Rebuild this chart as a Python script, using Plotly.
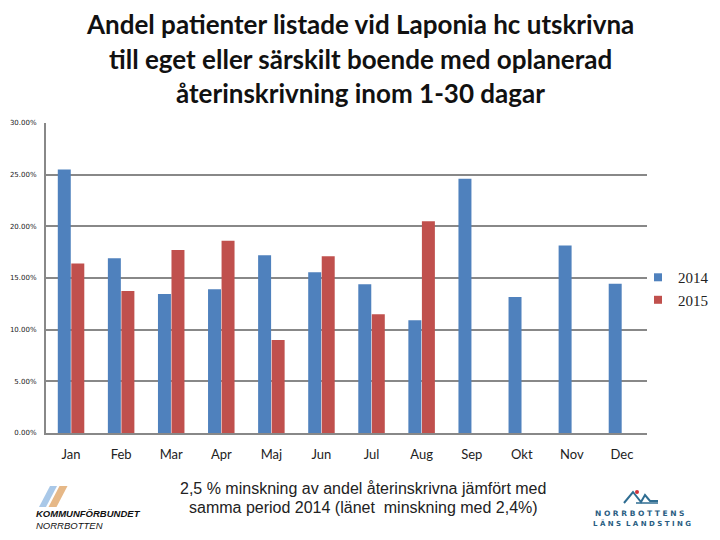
import plotly.graph_objects as go

months = ["Jan", "Feb", "Mar", "Apr", "Maj", "Jun", "Jul", "Aug", "Sep", "Okt", "Nov", "Dec"]
values_2014 = [25.5, 16.9, 13.45, 13.9, 17.2, 15.55, 14.4, 10.9, 24.6, 13.15, 18.15, 14.45]
values_2015 = [16.4, 13.75, 17.7, 18.6, 9.0, 17.1, 11.5, 20.5, None, None, None, None]
series_names = ["2014", "2015"]
y_ticks = [0, 5, 10, 15, 20, 25, 30]
y_tick_labels = ["0.00%", "5.00%", "10.00%", "15.00%", "20.00%", "25.00%", "30.00%"]

BLUE = "#4F81BD"
RED = "#C0504D"
GRID = "#888888"

fig = go.Figure()
for name, vals, col in zip(series_names, [values_2014, values_2015], [BLUE, RED]):
    fig.add_trace(go.Bar(x=months, y=vals, name=name, showlegend=False,
                         marker=dict(color=col, line=dict(width=0))))
    # legend entry with a small square swatch
    fig.add_trace(go.Scatter(x=[None], y=[None], mode="markers", name=name,
                             marker=dict(symbol="square", size=8, color=col)))

# The page body adds an 8px offset, so the figure is 8px smaller and margins shifted
fig.update_layout(
    width=712, height=532,
    margin=dict(l=38, r=73, t=115, b=107, autoexpand=False),
    paper_bgcolor="white", plot_bgcolor="white",
    barmode="group", bargap=0.46, bargroupgap=0.04,
    showlegend=True,
    legend=dict(x=0.985, y=0.466, xanchor="left", yanchor="middle",
                font=dict(family="Liberation Serif", size=15, color="#222222"),
                itemwidth=30, bgcolor="rgba(0,0,0,0)"),
    font=dict(family="Liberation Sans", color="#222222"),
)
fig.update_xaxes(
    showline=True, linecolor=GRID, linewidth=2, showgrid=False,
    tickfont=dict(family="Lato", size=13, color="#222222"),
    ticks="", ticklabelstandoff=8, automargin=False,
)
fig.update_yaxes(
    range=[0, 30], tickvals=y_ticks, ticktext=y_tick_labels,
    showline=True, linecolor=GRID, linewidth=2,
    showgrid=True, gridcolor=GRID, gridwidth=2,
    tickfont=dict(family="DejaVu Sans", size=7, color="#222222"),
    ticks="", ticklabelstandoff=6, zeroline=False, automargin=False,
)

def px(xp):
    return (xp - 46) / 601

def py(yp):
    return (433 - yp) / 310

# Title
title_lines = ["Andel patienter listade vid Laponia hc utskrivna",
               "till eget eller särskilt boende med oplanerad",
               "återinskrivning inom 1-30 dagar"]
for i, line in enumerate(title_lines):
    fig.add_annotation(text="<b>%s</b>" % line, xref="paper", yref="paper",
                       x=px(360), y=py(24 + 34.5 * i),
                       xanchor="center", yanchor="middle", showarrow=False,
                       font=dict(family="Lato", size=26, color="#111111"))

# Bottom note
note_lines = ["2,5 % minskning av andel återinskrivna jämfört med",
              "samma period 2014 (länet  minskning med 2,4%)"]
for i, line in enumerate(note_lines):
    fig.add_annotation(text=line, xref="paper", yref="paper",
                       x=px(363), y=py(488 + 19 * i),
                       xanchor="center", yanchor="middle", showarrow=False,
                       font=dict(family="Liberation Sans", size=16, color="#222222"))

# Left logo: stripes
fig.add_shape(type="path", xref="paper", yref="paper",
              path="M %f %f L %f %f L %f %f L %f %f Z" % (px(39), py(507), px(46), py(507), px(57), py(486), px(50), py(486)),
              fillcolor="#A9C8E8", line=dict(width=0))
fig.add_shape(type="path", xref="paper", yref="paper",
              path="M %f %f L %f %f L %f %f L %f %f Z" % (px(48.5), py(507), px(56.5), py(507), px(67.5), py(486), px(59.5), py(486)),
              fillcolor="#E6B887", line=dict(width=0))
fig.add_annotation(text="<b><i>KOMMUNFÖRBUNDET</i></b><br><i>NORRBOTTEN</i>", xref="paper", yref="paper",
                   x=px(34), y=py(519.5), xanchor="left", yanchor="middle", showarrow=False,
                   align="left",
                   font=dict(family="Liberation Sans", size=9.5, color="#111111"))

# Right logo
fig.add_shape(type="path", xref="paper", yref="paper",
              path="M %f %f L %f %f L %f %f L %f %f L %f %f L %f %f" % (
                  px(624), py(503), px(633), py(492), px(641), py(502),
                  px(645), py(495), px(650), py(501), px(658), py(501)),
              line=dict(color="#2F6D92", width=2))
fig.add_shape(type="line", xref="paper", yref="paper",
              x0=px(636), y0=py(503), x1=px(658), y1=py(503),
              line=dict(color="#2F6D92", width=1.5))
fig.add_shape(type="circle", xref="paper", yref="paper",
              x0=px(635), y0=py(494), x1=px(639), y1=py(490),
              fillcolor="#D0343A", line=dict(width=0))
fig.add_annotation(text="<b>N O R R B O T T E N S</b>", xref="paper", yref="paper",
                   x=px(639), y=py(513), xanchor="center", yanchor="middle", showarrow=False,
                   font=dict(family="DejaVu Sans", size=7.5, color="#2A5D82"))
fig.add_annotation(text="<b>L Ä N S  L A N D S T I N G</b>", xref="paper", yref="paper",
                   x=px(642), y=py(523.5), xanchor="center", yanchor="middle", showarrow=False,
                   font=dict(family="DejaVu Sans", size=7, color="#2A5D82"))

fig.write_html("out.html")
